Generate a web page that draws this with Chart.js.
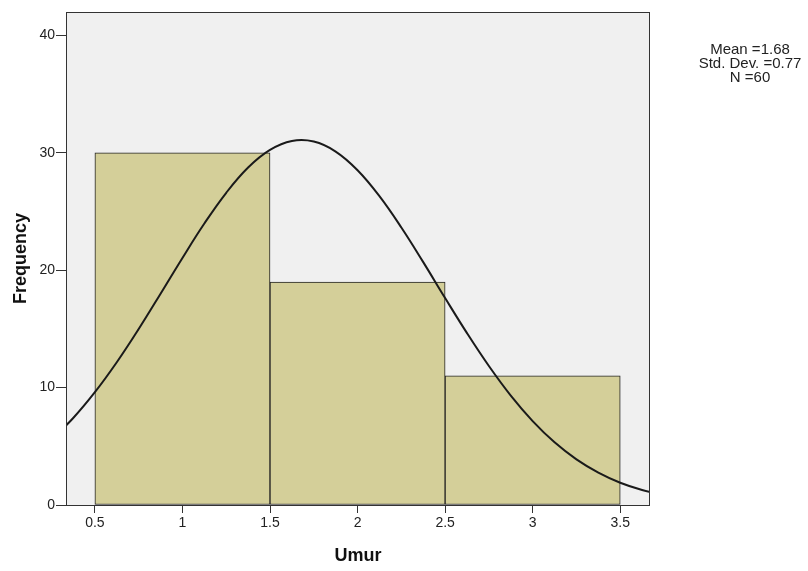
<!DOCTYPE html>
<html>
<head>
    <meta charset="UTF-8">
    <title>Umur</title>
    <script src="https://cdn.jsdelivr.net/npm/chart.js"></script>
    <style>
        body { margin: 0; background: #ffffff; }
        .chart-container { width: 808px; height: 571px; position: relative; }
    </style>
</head>
<body>
    <div class="chart-container">
        <canvas id="histChart"></canvas>
    </div>
    <script>
        // Histogram bins (centre of each bin) and counts
        var binCenters = [1, 2, 3];
        var frequencies = [30, 19, 11];

        // Normal curve, points
        var curveX = [0.25, 0.375, 0.5, 0.625, 0.75, 0.875, 1.0, 1.125, 1.25, 1.375, 1.5, 1.625, 1.75, 1.875, 2.0, 2.125, 2.25, 2.375, 2.5, 2.625, 2.75, 2.875, 3.0, 3.125, 3.25, 3.375, 3.5, 3.625, 3.75];
        var curveY = [5.54, 7.39, 9.61, 12.16, 14.99, 18.00, 21.05, 23.98, 26.60, 28.75, 30.25, 31.01, 30.96, 30.11, 28.52, 26.31, 23.64, 20.69, 17.63, 14.64, 11.84, 9.32, 7.15, 5.34, 3.89, 2.76, 1.90, 1.28, 0.84];

        // Tick labels
        var xTicks = [0.5, 1, 1.5, 2, 2.5, 3, 3.5];
        var yTicks = [0, 10, 20, 30, 40];

        var statsLines = ['Mean =1.68', 'Std. Dev. =0.77', 'N =60'];

        var FONT = "'Liberation Sans', Arial, sans-serif";

        var frame = {
            id: 'frame',
            beforeDraw: function (chart) {
                var a = chart.chartArea, ctx = chart.ctx;
                ctx.save();
                ctx.fillStyle = '#f0f0f0';
                ctx.fillRect(a.left, a.top, a.right - a.left, a.bottom - a.top);
                ctx.restore();
            },
            afterDraw: function (chart) {
                var a = chart.chartArea, ctx = chart.ctx;
                ctx.save();
                ctx.strokeStyle = '#333333';
                ctx.lineWidth = 1;
                ctx.strokeRect(a.left + 0.5, a.top + 0.5, a.right - a.left - 1, a.bottom - a.top);
                // stats box
                ctx.fillStyle = '#222222';
                ctx.font = '15px ' + FONT;
                ctx.textAlign = 'center';
                ctx.textBaseline = 'middle';
                for (var i = 0; i < statsLines.length; i++) {
                    ctx.fillText(statsLines[i], 750, 50 + i * 14);
                }
                ctx.restore();
            }
        };

        var bars = binCenters.map(function (x, i) { return { x: x, y: frequencies[i] }; });
        var curve = curveX.map(function (x, i) { return { x: x, y: curveY[i] }; });

        var ctx = document.getElementById('histChart').getContext('2d');
        var histChart = new Chart(ctx, {
            type: 'bar',
            data: {
                datasets: [{
                    type: 'line',
                    data: curve,
                    borderColor: '#1a1a1a',
                    borderWidth: 2,
                    pointRadius: 0,
                    fill: false,
                    tension: 0.4,
                    order: 0
                }, {
                    type: 'bar',
                    data: bars,
                    backgroundColor: '#d4cf99',
                    borderColor: '#222222',
                    borderWidth: 1,
                    borderSkipped: false,
                    barThickness: 'flex',
                    barPercentage: 1,
                    categoryPercentage: 1,
                    order: 1
                }]
            },
            options: {
                responsive: true,
                maintainAspectRatio: false,
                animation: false,
                layout: { padding: { top: 12, right: 158, left: 0, bottom: 0 } },
                plugins: {
                    legend: { display: false },
                    tooltip: { enabled: false }
                },
                scales: {
                    x: {
                        type: 'linear',
                        min: 0.335,
                        max: 3.67,
                        offset: false,
                        afterBuildTicks: function (scale) {
                            scale.ticks = xTicks.map(function (v) { return { value: v }; });
                        },
                        afterFit: function (scale) { scale.height = 66; },
                        ticks: {
                            color: '#222222',
                            font: { family: FONT, size: 14 },
                            padding: 2,
                            maxRotation: 0,
                            callback: function (v) { return String(v); }
                        },
                        grid: { offset: false, drawOnChartArea: false, tickLength: 8, color: '#333333' },
                        border: { display: false },
                        title: {
                            display: true,
                            text: 'Umur',
                            color: '#111111',
                            font: { family: FONT, size: 18, weight: 'bold' },
                            padding: { top: 0, bottom: 4 }
                        }
                    },
                    y: {
                        min: 0,
                        max: 42,
                        afterBuildTicks: function (scale) {
                            scale.ticks = yTicks.map(function (v) { return { value: v }; });
                        },
                        afterFit: function (scale) { scale.width = 66; },
                        ticks: {
                            color: '#222222',
                            font: { family: FONT, size: 14 },
                            padding: 1
                        },
                        grid: { drawOnChartArea: false, tickLength: 10, color: '#333333' },
                        border: { display: false },
                        title: {
                            display: true,
                            text: 'Frequency',
                            color: '#111111',
                            font: { family: FONT, size: 18, weight: 'bold' },
                            padding: { top: 10, bottom: 0 }
                        }
                    }
                }
            },
            plugins: [frame]
        });
    </script>
</body>
</html>
